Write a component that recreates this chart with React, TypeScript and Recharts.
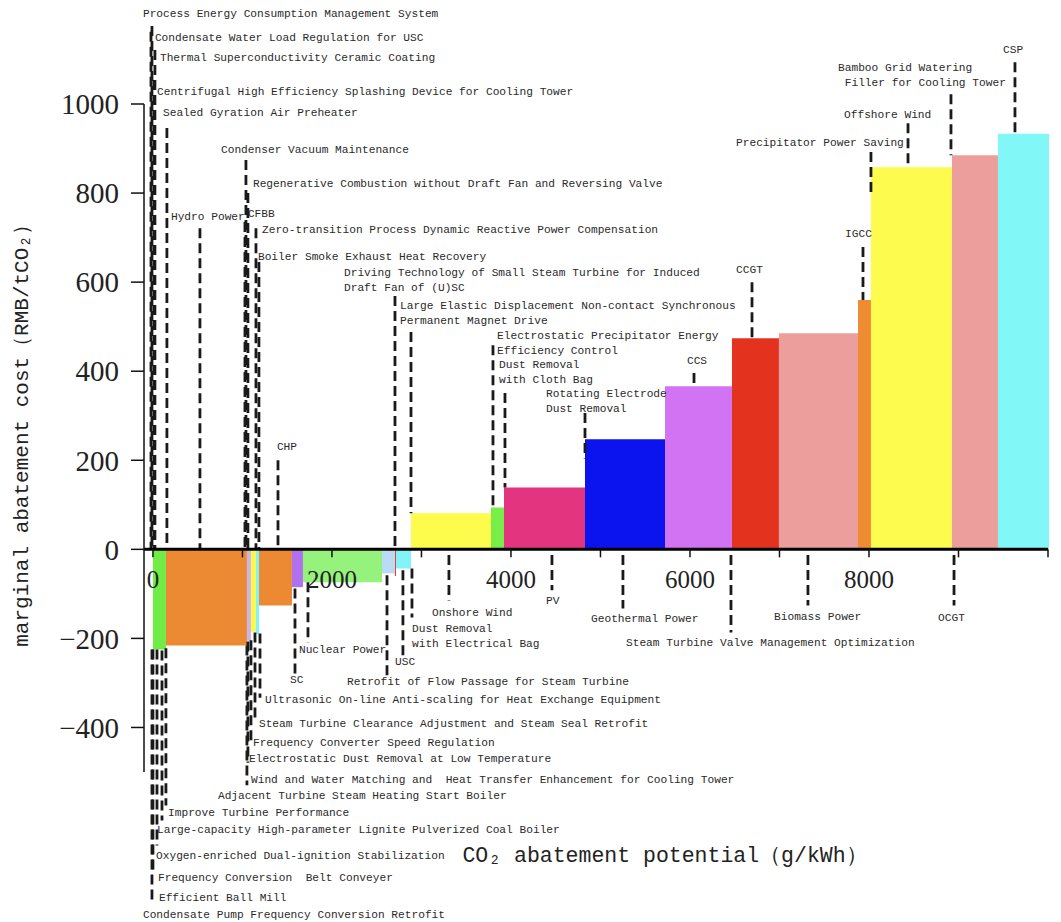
import React from 'react';
import { ComposedChart, Line, XAxis, YAxis, ReferenceArea, ReferenceLine, ReferenceDot } from 'recharts';

// abatement options, in merit order (left to right)
const technologies = [
  'Improve Turbine Performance',
  'Hydro Power',
  'Electrostatic Dust Removal at Low Temperature',
  'Steam Turbine Clearance Adjustment and Steam Seal Retrofit',
  'Ultrasonic On-line Anti-scaling for Heat Exchange Equipment',
  'CHP',
  'SC',
  'Nuclear Power',
  'Retrofit of Flow Passage for Steam Turbine',
  'Driving Technology of Small Steam Turbine for Induced Draft Fan of (U)SC',
  'USC',
  'Onshore Wind',
  'Electrostatic Precipitator Energy Efficiency Control',
  'PV',
  'Geothermal Power',
  'CCS',
  'CCGT',
  'Biomass Power',
  'IGCC',
  'Offshore Wind',
  'OCGT',
  'CSP',
];

// CO2 abatement potential (g/kWh) = block width
const potentials = [145, 905, 45, 55, 35, 368, 123, 883, 145, 11, 168, 894, 145, 905, 894, 748, 525, 883, 145, 905, 514, 570];

// marginal abatement cost (RMB/tCO2) = block height
const costs = [-225, -216, -205, -185, -190, -126, -85, -74, -54, -60, -43, 81, 94, 139, 247, 366, 474, 485, 560, 858, 885, 933];

const blockColors = [
  '#6fec46', '#ec8a34', '#c9b6e4', '#fff64a', '#82f2f4', '#ec8a34', '#b170ee', '#95f27c',
  '#b9dcf4', '#e5332a', '#80f4f6', '#fdfb4c', '#78ef48', '#e3357f', '#0b14ef', '#d273f4',
  '#e3331f', '#ec9e9d', '#ee8b33', '#fdfb4e', '#ec9e9d', '#82f7f7',
];

const yTicks = [-400, -200, 0, 200, 400, 600, 800, 1000];
const xTicks = [0, 1000, 2000, 3000, 4000, 5000, 6000, 7000, 8000, 9000, 10000];
const xTickLabels = [0, 2000, 4000, 6000, 8000];

// annotation labels: text, dashed leader (x, from y, to y), text anchor point
type Note = { text: string[]; lx?: number; ly?: [number, number]; tx: number; ty: number };

const notes: Note[] = [
  { text: ['Process Energy Consumption Management System'], lx: -11, ly: [1175, 0], tx: -112, ty: 1202 },
  { text: ['Condensate Water Load Regulation for USC'], lx: -22, ly: [1162, 0], tx: 22, ty: 1148 },
  { text: ['Thermal Superconductivity Ceramic Coating'], lx: 22, ly: [1121, 0], tx: 78, ty: 1103 },
  { text: ['Centrifugal High Efficiency Splashing Device for Cooling Tower'], lx: 11, ly: [1054, 0], tx: 45, ty: 1027 },
  { text: ['Sealed Gyration Air Preheater'], lx: 156, ly: [946, 0], tx: 112, ty: 980 },
  { text: ['Condenser Vacuum Maintenance'], lx: 1039, ly: [874, 0], tx: 760, ty: 897 },
  { text: ['Regenerative Combustion without Draft Fan and Reversing Valve'], lx: 1061, ly: [800, 0], tx: 1117, ty: 820 },
  { text: ['Hydro Power'], lx: 525, ly: [721, 0], tx: 201, ty: 746 },
  { text: ['CFBB'], lx: 1028, ly: [735, 0], tx: 1061, ty: 753 },
  { text: ['Zero-transition Process Dynamic Reactive Power Compensation'], lx: 1151, ly: [721, 0], tx: 1218, ty: 717 },
  { text: ['Boiler Smoke Exhaust Heat Recovery'], lx: 1184, ly: [645, 0], tx: 1173, ty: 656 },
  { text: ['Driving Technology of Small Steam Turbine for Induced', 'Draft Fan of (U)SC'], lx: 2704, ly: [569, 0], tx: 2134, ty: 620 },
  { text: ['Large Elastic Displacement Non-contact Synchronous', 'Permanent Magnet Drive'], lx: 2883, ly: [488, 81], tx: 2760, ty: 546 },
  { text: ['Electrostatic Precipitator Energy', 'Efficiency Control'], lx: 3799, ly: [458, 94], tx: 3844, ty: 479 },
  { text: ['Dust Removal', 'with Cloth Bag'], lx: 3933, ly: [351, 139], tx: 3866, ty: 413 },
  { text: ['Rotating Electrode', 'Dust Removal'], lx: 4827, ly: [306, 204], tx: 4391, ty: 348 },
  { text: ['CHP'], lx: 1397, ly: [200, 0], tx: 1385, ty: 229 },
  { text: ['CCS'], lx: 6045, ly: [396, 362], tx: 5966, ty: 422 },
  { text: ['CCGT'], lx: 6693, ly: [600, 474], tx: 6514, ty: 627 },
  { text: ['IGCC'], lx: 7933, ly: [679, 560], tx: 7732, ty: 708 },
  { text: ['Precipitator Power Saving'], lx: 8022, ly: [892, 791], tx: 6514, ty: 912 },
  { text: ['Offshore Wind'], lx: 8436, ly: [957, 858], tx: 7721, ty: 975 },
  { text: ['Bamboo Grid Watering', ' Filler for Cooling Tower'], lx: 8916, ly: [1022, 885], tx: 7654, ty: 1081 },
  { text: ['CSP'], lx: 9631, ly: [1094, 933], tx: 9497, ty: 1121 },
  { text: ['Onshore Wind'], lx: 3307, ly: [-13, -115], tx: 3117, ty: -144 },
  { text: ['PV'], lx: 4458, ly: [-13, -92], tx: 4391, ty: -115 },
  { text: ['Geothermal Power'], lx: 5251, ly: [-13, -133], tx: 4894, ty: -157 },
  { text: ['Steam Turbine Valve Management Optimization'], lx: 6458, ly: [-13, -187], tx: 5285, ty: -211 },
  { text: ['Biomass Power'], lx: 7318, ly: [-13, -126], tx: 6939, ty: -153 },
  { text: ['OCGT'], lx: 8950, ly: [-13, -126], tx: 8771, ty: -155 },
  { text: ['Dust Removal', 'with Electrical Bag'], lx: 2894, ly: [-43, -153], tx: 2894, ty: -178 },
  { text: ['USC'], lx: 2793, ly: [-47, -243], tx: 2704, ty: -252 },
  { text: ['Nuclear Power'], lx: 1732, ly: [-74, -209], tx: 1631, ty: -225 },
  { text: ['SC'], lx: 1587, ly: [-88, -279], tx: 1531, ty: -294 },
  { text: ['Retrofit of Flow Passage for Steam Turbine'], lx: 2615, ly: [-58, -283], tx: 2168, ty: -297 },
  { text: ['Ultrasonic On-line Anti-scaling for Heat Exchange Equipment'], lx: 1196, ly: [-189, -333], tx: 1251, ty: -339 },
  { text: ['Steam Turbine Clearance Adjustment and Steam Seal Retrofit'], lx: 1140, ly: [-187, -384], tx: 1184, ty: -393 },
  { text: ['Frequency Converter Speed Regulation'], lx: 1095, ly: [-204, -440], tx: 1117, ty: -434 },
  { text: ['Electrostatic Dust Removal at Low Temperature'], lx: 1061, ly: [-207, -479], tx: 1073, ty: -470 },
  { text: ['Wind and Water Matching and  Heat Transfer Enhancement for Cooling Tower'], lx: 1050, ly: [-216, -530], tx: 1095, ty: -519 },
  { text: ['Adjacent Turbine Steam Heating Start Boiler'], tx: 726, ty: -553 },
  { text: ['Improve Turbine Performance'], lx: 145, ly: [-222, -575], tx: 168, ty: -591 },
  { text: ['Large-capacity High-parameter Lignite Pulverized Coal Boiler'], lx: 101, ly: [-227, -609], tx: 45, ty: -631 },
  { text: ['Oxygen-enriched Dual-ignition Stabilization'], lx: 45, ly: [-225, -665], tx: 34, ty: -688 },
  { text: ['Frequency Conversion  Belt Conveyer'], lx: 0, ly: [-225, -721], tx: 56, ty: -737 },
  { text: ['Efficient Ball Mill'], lx: -11, ly: [-225, -796], tx: 67, ty: -782 },
  { text: ['Condensate Pump Frequency Conversion Retrofit'], tx: -112, ty: -820 },
];

const blocks = technologies.map((name, i) => {
  const start = potentials.slice(0, i).reduce((a, b) => a + b, 0);
  return { name, start, end: start + potentials[i], mid: start + potentials[i] / 2, cost: costs[i], color: blockColors[i] };
});

const MONO = '"Liberation Mono", "DejaVu Sans Mono", monospace';
const SERIF = '"Liberation Serif", "DejaVu Serif", serif';

const TextAt = (props: any) => {
  const { cx, cy, lines, size = 11.2, anchor = 'start', rotate = 0, fill = '#2a2a2a', family = MONO } = props;
  if (cx == null || cy == null) return null;
  return (
    <text
      x={cx}
      y={cy}
      fontSize={size}
      fontFamily={family}
      fill={fill}
      textAnchor={anchor}
      dominantBaseline="central"
      style={{ whiteSpace: 'pre' }}
      transform={rotate ? `rotate(${rotate}, ${cx}, ${cy})` : undefined}
    >
      {lines.map((t: string, i: number) => (
        <tspan key={i} x={cx} dy={i === 0 ? 0 : Math.round(size * 1.35)}>
          {t}
        </tspan>
      ))}
    </text>
  );
};

const leaderStyle = { stroke: '#1a1a1a', strokeWidth: 2.8, strokeDasharray: '10 5' };

export default function App() {
  return (
    <div style={{ width: 1045, height: 912 }}>
      <ComposedChart
        width={1045}
        height={912}
        data={blocks}
        margin={{ top: 96, right: 5, bottom: 148, left: 0 }}
      >
        <XAxis dataKey="mid" type="number" domain={[-100, 10000]} allowDataOverflow hide />
        <YAxis
          type="number"
          domain={[-500, 1000]}
          ticks={yTicks}
          allowDataOverflow
          width={136}
          tickSize={13}
          tickMargin={12}
          axisLine={{ stroke: '#111', strokeWidth: 1.5 }}
          tickLine={{ stroke: '#111', strokeWidth: 1.5 }}
          tick={{ fontSize: 29, fill: '#222', fontFamily: SERIF }}
          tickFormatter={(v: number) => String(v).replace('-', '\u2212')}
        />

        {blocks.map((b) => (
          <ReferenceArea
            key={b.name}
            x1={b.start}
            x2={b.end}
            y1={0}
            y2={b.cost}
            fill={b.color}
            fillOpacity={1}
            stroke="none"
            ifOverflow="visible"
          />
        ))}

        <Line dataKey="cost" stroke="none" dot={false} activeDot={false} legendType="none" isAnimationActive={false} />

        {notes
          .filter((n) => n.lx !== undefined && n.ly)
          .map((n, i) => (
            <ReferenceLine
              key={`l${i}`}
              segment={[
                { x: n.lx as number, y: (n.ly as [number, number])[0] },
                { x: n.lx as number, y: (n.ly as [number, number])[1] },
              ]}
              ifOverflow="visible"
              {...leaderStyle}
            />
          ))}

        {/* x axis drawn through zero */}
        <ReferenceLine y={0} stroke="#000" strokeWidth={3} ifOverflow="visible" />
        {xTicks.map((v) => (
          <ReferenceLine
            key={`t${v}`}
            segment={[
              { x: v, y: 0 },
              { x: v, y: -18 },
            ]}
            stroke="#111"
            strokeWidth={1.5}
            ifOverflow="visible"
          />
        ))}
        {xTickLabels.map((v) => (
          <ReferenceDot
            key={`xl${v}`}
            x={v}
            y={-67}
            r={0}
            ifOverflow="visible"
            shape={(p: any) => <TextAt cx={p.cx} cy={p.cy} lines={[String(v)]} size={25} anchor="middle" family={SERIF} fill="#222" />}
          />
        ))}

        {notes.map((n, i) => (
          <ReferenceDot
            key={`n${i}`}
            x={n.tx}
            y={n.ty}
            r={0}
            ifOverflow="visible"
            shape={(p: any) => <TextAt cx={p.cx} cy={p.cy} lines={n.text} />}
          />
        ))}

        {/* axis titles */}
        <ReferenceDot
          x={5721}
          y={-688}
          r={0}
          ifOverflow="visible"
          shape={(p: any) => (
            <TextAt cx={p.cx} cy={p.cy} lines={['CO\u2082 abatement potential\uFF08g/kWh\uFF09']} size={21.5} anchor="middle" fill="#222" />
          )}
        />
        <ReferenceDot
          x={-1464}
          y={267}
          r={0}
          ifOverflow="visible"
          shape={(p: any) => (
            <TextAt cx={p.cx} cy={p.cy} lines={['marginal abatement cost\uFF08RMB/tCO\u2082\uFF09']} size={21} anchor="middle" rotate={-90} fill="#222" />
          )}
        />
      </ComposedChart>
    </div>
  );
}
